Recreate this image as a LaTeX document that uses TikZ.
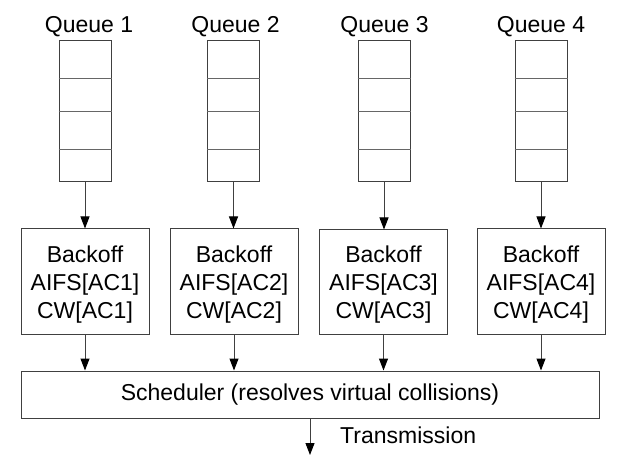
\documentclass[tikz,border=0pt]{standalone}
\usepackage{fontspec}
\setmainfont{Liberation Sans}
\usetikzlibrary{arrows.meta}
\begin{document}
\begin{tikzpicture}[x=1pt,y=-1pt,
  box/.style={draw=black!75, line width=1pt, inner sep=0pt},
  qbox/.style={box, minimum width=52pt, minimum height=141pt},
  boff/.style={box, minimum width=128pt, minimum height=105pt},
  btext/.style={align=center, inner sep=0pt, font=\fontsize{23}{28}\selectfont},
  lbl/.style={font=\fontsize{23}{28}\selectfont, inner sep=0pt},
  div/.style={draw=black!60, line width=1pt},
  arr/.style={draw=black!75, line width=1pt, -{Triangle[length=12pt,width=9pt,fill=black,color=black]}}
]
\useasboundingbox (0,0) rectangle (638,468);
% queues
\node[qbox] (q1) at (85,111.5) {};
\node[qbox] (q2) at (233.5,111.5) {};
\node[qbox] (q3) at (384,111.5) {};
\node[qbox] (q4) at (541,111.5) {};
\foreach \q in {q1,q2,q3,q4}{
  \foreach \d in {38,71,109}{
    \draw[div] ([yshift=-\d pt]\q.north west) -- ([yshift=-\d pt]\q.north east);
  }
}
% queue labels
\node[lbl, anchor=base] (l1) at (89,33) {Queue 1};
\node[lbl, anchor=base] (l2) at (235.5,33) {Queue 2};
\node[lbl, anchor=base] (l3) at (384.5,33) {Queue 3};
\node[lbl, anchor=base] (l4) at (541,33) {Queue 4};
% backoff boxes
\node[boff] (b1) at (85,281.5) {};
\node[boff] (b2) at (234,281.5) {};
\node[boff, minimum height=104pt] (b3) at (383.5,282) {};
\node[boff] (b4) at (541,281.5) {};
\node[btext] (t1) at ([yshift=-3.5pt]b1.center) {Backoff\\AIFS[AC1]\\CW[AC1]};
\node[btext] (t2) at ([yshift=-3.5pt]b2.center) {Backoff\\AIFS[AC2]\\CW[AC2]};
\node[btext] (t3) at ([yshift=-3pt]b3.center) {Backoff\\AIFS[AC3]\\CW[AC3]};
\node[btext] (t4) at ([yshift=-3.5pt]b4.center) {Backoff\\AIFS[AC4]\\CW[AC4]};
% scheduler
\node[box, minimum width=578pt, minimum height=47pt, font=\fontsize{23}{28}\selectfont] (s) at (310,394.5) {Scheduler (resolves virtual collisions)};
% arrows
\foreach \i in {1,2,3,4}{
  \draw[arr] (q\i.south) -- (q\i.south |- b\i.north);
  \draw[arr] (b\i.south) -- (b\i.south |- s.north);
}
\coordinate (t) at (310,455);
\draw[arr] (s.south -| t) -- (t);
\node[lbl, anchor=base west] (tx) at (340,443) {Transmission};
\end{tikzpicture}
\end{document}
